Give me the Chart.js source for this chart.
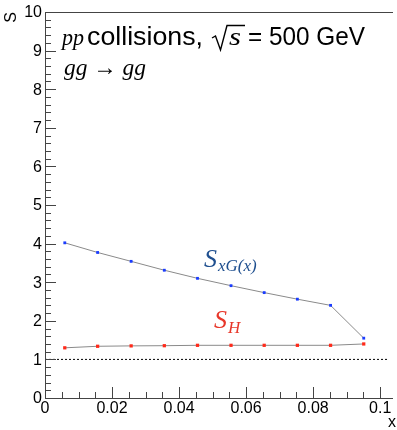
<!DOCTYPE html>
<html>
<head>
<meta charset="utf-8">
<script src="https://cdn.jsdelivr.net/npm/chart.js@4.4.0/dist/chart.umd.min.js"></script>
<style>
  html, body { margin: 0; padding: 0; background: #fff; }
  #wrap { width: 397px; height: 430px; }
</style>
</head>
<body>
<div id="wrap"><canvas id="chart" width="397" height="430"></canvas></div>
<script>
// values
const xBins = [0.0059, 0.0157, 0.0257, 0.0356, 0.0455, 0.0555, 0.0654, 0.0753, 0.0852, 0.0951];
const sxG = [4.02, 3.77, 3.54, 3.31, 3.10, 2.91, 2.73, 2.56, 2.40, 1.55];
const sH = [1.30, 1.34, 1.35, 1.355, 1.365, 1.365, 1.365, 1.365, 1.365, 1.40];
const refLine = [[0, 1], [0.1025, 1]];

const yTicks = [0, 1, 2, 3, 4, 5, 6, 7, 8, 9, 10];
const xTicks = [0, 0.02, 0.04, 0.06, 0.08, 0.1];
const xTickLabels = ['0', '0.02', '0.04', '0.06', '0.08', '0.1'];

const SANS = '"Liberation Sans", Arial, sans-serif';
const SERIF = '"Liberation Serif", "Times New Roman", serif';

const toPts = (xs, ys) => xs.map((x, i) => ({ x, y: ys[i] }));

// draws the ROOT-like frame, inward ticks, labels and the latex text
const rootFrame = {
  id: 'rootFrame',
  afterDraw(chart) {
    const { ctx, chartArea: a, scales: { x, y } } = chart;
    ctx.save();
    ctx.strokeStyle = '#444';
    ctx.lineWidth = 1;
    ctx.beginPath();
    ctx.moveTo(a.left + 0.5, a.bottom + 0.5);
    ctx.lineTo(a.left + 0.5, a.top + 0.5);
    ctx.lineTo(a.right, a.top + 0.5);
    ctx.moveTo(a.left + 0.5, a.bottom + 0.5);
    ctx.lineTo(a.right, a.bottom + 0.5);
    ctx.stroke();

    // y ticks
    ctx.beginPath();
    for (let v = 0; v <= 10.0001; v += 0.2) {
      const py = Math.round(y.getPixelForValue(v)) + 0.5;
      const major = Math.abs(v - Math.round(v)) < 1e-6;
      ctx.moveTo(a.left, py);
      ctx.lineTo(a.left + (major ? 11 : 6), py);
    }
    // x ticks
    for (let k = 0; k <= 20; k++) {
      const v = k * 0.005;
      const px = Math.round(x.getPixelForValue(v)) + 0.5;
      const major = k % 4 === 0;
      ctx.moveTo(px, a.bottom);
      ctx.lineTo(px, a.bottom - (major ? 11 : 6));
    }
    ctx.stroke();

    ctx.fillStyle = '#000';
    ctx.font = '16px ' + SANS;
    ctx.textAlign = 'right';
    ctx.textBaseline = 'middle';
    yTicks.forEach(v => ctx.fillText(String(v), a.left - 3, y.getPixelForValue(v) + 1));
    ctx.textAlign = 'center';
    ctx.textBaseline = 'top';
    xTicks.forEach((v, i) => ctx.fillText(xTickLabels[i], x.getPixelForValue(v), a.bottom + 3));

    // axis titles
    ctx.textAlign = 'right';
    ctx.textBaseline = 'alphabetic';
    ctx.fillText('x', 396, 427);
    ctx.save();
    ctx.translate(16, 12);
    ctx.rotate(-Math.PI / 2);
    ctx.fillText('S', 0, 0);
    ctx.restore();

    ctx.textAlign = 'left';
    const put = (t, font, px, py, color) => {
      ctx.font = font;
      ctx.fillStyle = color || '#000';
      ctx.fillText(t, px, py);
      return px + ctx.measureText(t).width;
    };
    // text squeezed / stretched to the width it has in the picture
    const fit = (t, font, px, py, w) => {
      ctx.font = font;
      ctx.fillStyle = '#000';
      const k = w / ctx.measureText(t).width;
      ctx.save();
      ctx.translate(px, py);
      ctx.scale(k, 1);
      ctx.fillText(t, 0, 0);
      ctx.restore();
    };

    // pp collisions, sqrt(s) = 500 GeV
    fit('pp', 'italic 24px ' + SERIF, 62, 45, 22);
    fit('collisions,', '25px ' + SANS, 87, 45, 116);
    ctx.strokeStyle = '#000';
    ctx.lineWidth = 1.4;
    ctx.beginPath();
    ctx.moveTo(212, 38);
    ctx.lineTo(215.5, 36);
    ctx.lineTo(220.5, 50);
    ctx.lineTo(227, 25.5);
    ctx.lineTo(245, 25.5);
    ctx.stroke();
    fit('s', 'italic 25px ' + SERIF, 229, 45, 12);
    fit('= 500 GeV', '25px ' + SANS, 248, 45, 117);

    fit('gg \u2192 gg', 'italic 24px ' + SERIF, 64, 75, 82);

    let cx = put('S', 'italic 26px ' + SERIF, 204, 267, '#1f4f8f');
    put('xG(x)', 'italic 17px ' + SERIF, cx + 1, 271, '#1f4f8f');
    cx = put('S', 'italic 26px ' + SERIF, 214, 328, '#e8372a');
    put('H', 'italic 17px ' + SERIF, cx + 1, 333, '#e8372a');

    ctx.restore();
  }
};

new Chart(document.getElementById('chart'), {
  type: 'scatter',
  data: {
    datasets: [
      {
        label: 'ref',
        data: refLine,
        showLine: true,
        borderColor: '#000',
        borderWidth: 1,
        borderDash: [2, 2],
        pointRadius: 0
      },
      {
        label: 'S_xG(x)',
        data: toPts(xBins, sxG),
        showLine: true,
        borderColor: '#8a8a8a',
        borderWidth: 1,
        pointStyle: 'rect',
        pointRadius: 2,
        pointBackgroundColor: '#1a3cff',
        pointBorderColor: '#1a3cff',
        pointBorderWidth: 0
      },
      {
        label: 'S_H',
        data: toPts(xBins, sH),
        showLine: true,
        borderColor: '#8a8a8a',
        borderWidth: 1,
        pointStyle: 'rect',
        pointRadius: 2.3,
        pointBackgroundColor: '#ff2a1a',
        pointBorderColor: '#ff2a1a',
        pointBorderWidth: 0
      }
    ]
  },
  options: {
    responsive: false,
    animation: false,
    layout: { padding: { left: 45, top: 12, right: 0, bottom: 32 } },
    plugins: { legend: { display: false }, tooltip: { enabled: false } },
    scales: {
      x: { type: 'linear', display: false, min: 0, max: 0.10383 },
      y: { type: 'linear', display: false, min: 0, max: 10 }
    }
  },
  plugins: [rootFrame]
});
</script>
</body>
</html>
